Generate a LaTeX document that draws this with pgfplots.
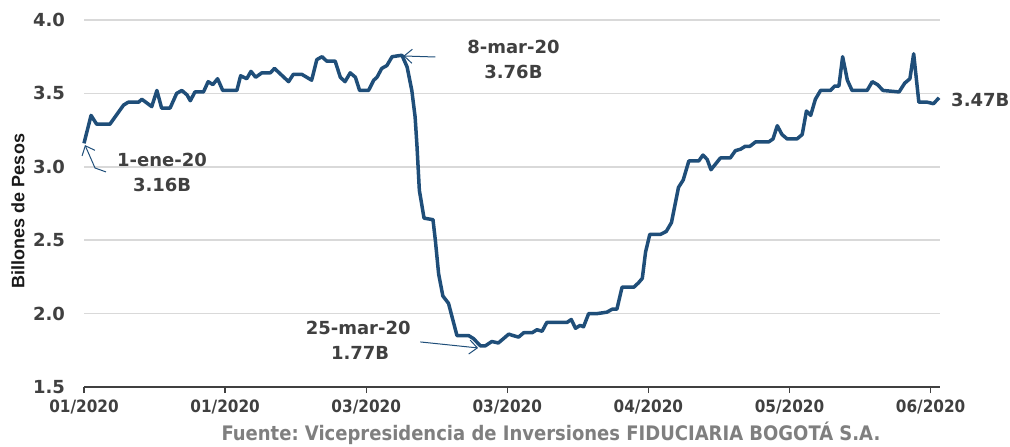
\documentclass[border=0pt]{standalone}
\usepackage{fontspec}
\setmainfont{DejaVu Sans}
\newfontfamily\condfont{DejaVu Sans Condensed}
\newfontfamily\arialfont{Liberation Sans}
\usepackage{pgfplots}
\pgfplotsset{compat=1.18}
\usetikzlibrary{arrows.meta}
\definecolor{lineblue}{HTML}{1F4E79}
\definecolor{txtgray}{HTML}{404040}
\definecolor{srcgray}{HTML}{7F7F7F}
\definecolor{gridgray}{HTML}{D9D9D9}
\frenchspacing

\begin{document}
\begin{tikzpicture}
  \begin{axis}[
    at={(0,0)}, anchor=south west,
    scale only axis,
    width=428pt, height=183.5pt,
    xmin=0, xmax=182,
    ymin=1.5, ymax=4.0,
    clip=false,
    axis lines*=left,
    y axis line style={draw=none},
    x axis line style={-, line width=1.1pt, color=black!75},
    ytick={1.5,2.0,2.5,3.0,3.5,4.0},
    ymajorgrids,
    grid style={gridgray, line width=0.8pt},
    major y tick style={draw=none},
    xtick={0,30,60,90,120,150,180},
    xticklabels={01/2020,01/2020,03/2020,03/2020,04/2020,05/2020,06/2020},
    major x tick style={line width=0.7pt, color=black!75},
    major tick length=3pt,
    tick align=outside,
    yticklabel style={font=\bfseries\fontsize{9}{10}\selectfont, color=txtgray, xshift=-3pt,
      /pgf/number format/.cd, fixed, fixed zerofill, precision=1, assume math mode=true},
    xticklabel style={font=\condfont\bfseries\fontsize{8.5}{10}\selectfont, color=txtgray},
  ]
    \addplot[lineblue, line width=1.75pt, line join=round] coordinates {
      (0,3.16) (1.5,3.35) (2.7,3.29) (5.5,3.29) (8.4,3.42) (9.4,3.44) (11.6,3.44)
      (12.3,3.46) (14.4,3.41) (15.5,3.52) (16.5,3.40) (18.3,3.40) (19.7,3.50)
      (20.8,3.52) (21.9,3.49) (22.6,3.45) (23.6,3.51) (25.4,3.51) (26.4,3.58)
      (27.4,3.56) (28.4,3.60) (29.5,3.52) (32.5,3.52) (33.3,3.62) (34.6,3.60)
      (35.5,3.65) (36.5,3.61) (37.8,3.64) (39.6,3.64) (40.5,3.67) (43.5,3.58)
      (44.5,3.63) (46.3,3.63) (48.4,3.59) (49.5,3.73) (50.6,3.75) (51.6,3.72)
      (53.4,3.72) (54.5,3.61) (55.5,3.58) (56.6,3.64) (57.7,3.61) (58.6,3.52)
      (60.5,3.52) (61.6,3.59) (62.3,3.61) (63.3,3.67) (64.4,3.69) (65.5,3.75)
      (67.6,3.76) (68.7,3.68) (69.7,3.52) (70.4,3.34) (70.8,3.14) (71.3,2.84)
      (72.3,2.65) (74.2,2.64) (74.7,2.50) (75.4,2.27) (76.3,2.12) (77.5,2.07)
      (79.3,1.85) (81.8,1.85) (82.8,1.83) (84.3,1.78) (85.3,1.78) (86.7,1.81)
      (88.1,1.80) (90.3,1.86) (91.3,1.85) (92.4,1.84) (93.5,1.87) (95.3,1.87)
      (96.3,1.89) (97.4,1.88) (98.4,1.94) (102.7,1.94) (103.6,1.96) (104.5,1.90)
      (105.5,1.92) (106.2,1.91) (107.3,2.00) (109.1,2.00) (111.2,2.01) (112.3,2.03)
      (113.3,2.03) (114.4,2.18) (116.9,2.18) (117.9,2.21) (118.7,2.24) (119.4,2.42)
      (120.3,2.54) (122.6,2.54) (123.8,2.56) (124.9,2.62) (126.4,2.86) (127.4,2.91)
      (128.6,3.04) (130.7,3.04) (131.6,3.08) (132.5,3.05) (133.3,2.98) (135.3,3.06)
      (137.4,3.06) (138.5,3.11) (139.6,3.12) (140.6,3.14) (141.6,3.14) (142.8,3.17)
      (145.6,3.17) (146.5,3.19) (147.4,3.28) (148.4,3.22) (149.5,3.19) (151.6,3.19)
      (152.7,3.22) (153.6,3.38) (154.5,3.35) (155.5,3.46) (156.6,3.52) (158.7,3.52)
      (159.6,3.55) (160.5,3.55) (161.3,3.75) (162.3,3.59) (163.3,3.52) (166.5,3.52)
      (167.6,3.58) (168.7,3.56) (169.9,3.52) (173.3,3.51) (174.5,3.57) (175.6,3.60)
      (176.4,3.77) (177.5,3.44) (179.3,3.44) (180.6,3.43) (181.8,3.47)
    };
    % callouts
    \draw[lineblue, line width=0.5pt, -{Straight Barb[length=4pt,width=7pt]}]
      (axis cs:4.68,2.965) -- (axis cs:2.34,2.992) -- (axis cs:0.21,3.148);
    \draw[lineblue, line width=0.5pt, -{Straight Barb[length=4pt,width=7pt]}]
      (axis cs:74.7,3.748) -- (axis cs:67.9,3.755);
    \draw[lineblue, line width=0.5pt, -{Straight Barb[length=4pt,width=7pt]}]
      (axis cs:71.5,1.807) -- (axis cs:83.8,1.766);
    \begin{scope}[every node/.style={font=\bfseries\fontsize{9}{10}\selectfont, text=txtgray, inner sep=0pt}]
      \node at (axis cs:16.6,3.046) {1-ene-20};
      \node at (axis cs:16.6,2.876) {3.16B};
      \node at (axis cs:91.3,3.816) {8-mar-20};
      \node at (axis cs:91.3,3.646) {3.76B};
      \node at (axis cs:58.3,1.902) {25-mar-20};
      \node at (axis cs:58.7,1.732) {1.77B};
      \node[anchor=west] at (axis cs:184.3,3.455) {3.47B};
    \end{scope}
  \end{axis}
  \node[rotate=90, font=\arialfont\bfseries\fontsize{9}{10}\selectfont, text=black!90] at (-33pt,88pt) {Billones de Pesos};
  \node[font=\condfont\bfseries\fontsize{10}{11}\selectfont, text=srcgray] at (233.5pt,-23pt)
    {Fuente: Vicepresidencia de Inversiones FIDUCIARIA BOGOTÁ S.A.};
  \pgfresetboundingbox
  \path (-42pt,-29.5pt) rectangle (463pt,193.5pt);
\end{tikzpicture}
\end{document}
